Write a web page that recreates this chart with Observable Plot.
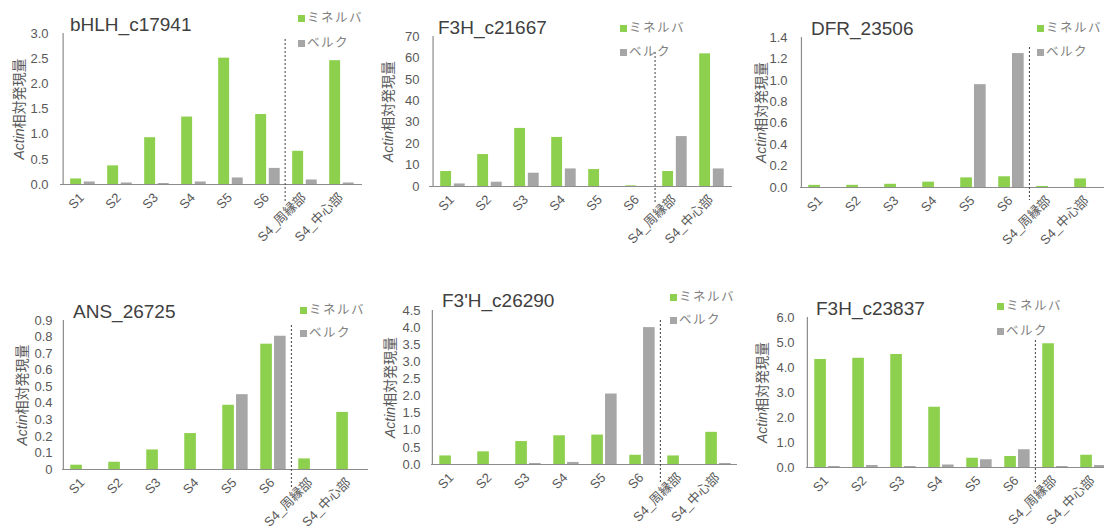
<!DOCTYPE html>
<html><head><meta charset="utf-8">
<script src="https://cdn.jsdelivr.net/npm/d3@7"></script>
<script src="https://cdn.jsdelivr.net/npm/@observablehq/plot@0.6"></script>
<style>
html,body{margin:0;padding:0;background:#fff;overflow:hidden;}
#root{position:relative;width:1104px;height:527px;overflow:hidden;background:#fff;font-family:"Liberation Sans",Arial,"Noto Sans CJK JP",sans-serif;color:#595959;}
.panel{position:absolute;}
.title{position:absolute;font-size:19px;white-space:nowrap;line-height:20px;color:#404040;}
.legend{position:absolute;font-size:12.5px;letter-spacing:1.5px;white-space:nowrap;line-height:14px;color:#7f7f7f;}
.sw{display:inline-block;width:7px;height:7px;margin-right:2px;vertical-align:0px;}
</style></head><body><div id="root"></div>
<script>
// ---- data ----
const categories = ["S1","S2","S3","S4","S5","S6","S4_周縁部","S4_中心部"];
const seriesNames = ["ミネルバ","ベルク"];
const yLabelItalic = "Actin";
const yLabelRest = "相対発現量";
const titles = ["bHLH_c17941","F3H_c21667","DFR_23506","ANS_26725","F3'H_c26290","F3H_c23837"];

const bhlhMinerva = [0.11, 0.37, 0.93, 1.34, 2.51, 1.39, 0.66, 2.46];
const bhlhBerg    = [0.05, 0.03, 0.02, 0.05, 0.13, 0.32, 0.09, 0.03];
const bhlhTicks   = ["0.0","0.5","1.0","1.5","2.0","2.5","3.0"];

const f3h1Minerva = [7.0, 14.9, 27.1, 22.9, 7.9, 0.3, 7.0, 61.9];
const f3h1Berg    = [1.2, 2.0, 6.2, 8.2, 0, 0, 23.3, 8.2];
const f3h1Ticks   = ["0","10","20","30","40","50","60","70"];

const dfrMinerva  = [0.02, 0.02, 0.03, 0.05, 0.09, 0.10, 0.01, 0.08];
const dfrBerg     = [0, 0, 0, 0, 0.96, 1.25, 0, 0];
const dfrTicks    = ["0.0","0.2","0.4","0.6","0.8","1.0","1.2","1.4"];

const ansMinerva  = [0.026, 0.044, 0.118, 0.217, 0.388, 0.757, 0.064, 0.345];
const ansBerg     = [0, 0, 0, 0, 0.452, 0.805, 0, 0];
const ansTicks    = ["0","0.1","0.2","0.3","0.4","0.5","0.6","0.7","0.8","0.9"];

const f3phMinerva = [0.25, 0.37, 0.67, 0.84, 0.86, 0.27, 0.25, 0.94];
const f3phBerg    = [0, 0, 0.03, 0.06, 2.06, 4.0, 0, 0.03];
const f3phTicks   = ["0.0","0.5","1.0","1.5","2.0","2.5","3.0","3.5","4.0","4.5"];

const f3h2Minerva = [4.32, 4.37, 4.52, 2.41, 0.37, 0.44, 4.95, 0.49];
const f3h2Berg    = [0.04, 0.08, 0.04, 0.10, 0.31, 0.71, 0.04, 0.08];
const f3h2Ticks   = ["0.0","1.0","2.0","3.0","4.0","5.0","6.0"];

// ---- styles / layout ----
const colors = ["#8dd04d", "#a6a6a6"];
const panels = [
  {title: titles[0], a: bhlhMinerva, b: bhlhBerg, ticks: bhlhTicks,
   left: 0, top: 0, width: 370, height: 260, ml: 60, mr: 8, mt: 33, mb: 76, pad: 12, labDx: -41, dashT: 6, dashB: -18,
   tx: 70, ty: 15, lx: 298, ly1: 11, ly2: 36},
  {title: titles[1], a: f3h1Minerva, b: f3h1Berg, ticks: f3h1Ticks,
   left: 370, top: 0, width: 370, height: 260, ml: 59, mr: 8, mt: 36, mb: 74, pad: 10, labDx: -41, dashT: 16, dashB: -17,
   tx: 68, ty: 18, lx: 250, ly1: 21, ly2: 45},
  {title: titles[2], a: dfrMinerva, b: dfrBerg, ticks: dfrTicks,
   left: 734, top: 0, width: 378, height: 260, ml: 66, mr: 7, mt: 37, mb: 73, pad: 13, labDx: -39, dashT: 10, dashB: -13,
   tx: 77, ty: 19, lx: 303, ly1: 21, ly2: 45},
  {title: titles[3], a: ansMinerva, b: ansBerg, ticks: ansTicks,
   left: 0, top: 270, width: 376, height: 257, ml: 62, mr: 8, mt: 50, mb: 58, pad: 10, labDx: -40, dashT: 5, dashB: -18,
   tx: 73, ty: 32, lx: 300, ly1: 33, ly2: 56},
  {title: titles[4], a: f3phMinerva, b: f3phBerg, ticks: f3phTicks,
   left: 370, top: 270, width: 375, height: 257, ml: 61, mr: 8, mt: 40, mb: 63, pad: 11, labDx: -41, dashT: 10, dashB: -19,
   tx: 72, ty: 21, lx: 300, ly1: 20, ly2: 43},
  {title: titles[5], a: f3h2Minerva, b: f3h2Berg, ticks: f3h2Ticks,
   left: 734, top: 270, width: 386, height: 257, ml: 72, mr: 8, mt: 47, mb: 60, pad: 12, labDx: -44, dashT: 23, dashB: -16,
   tx: 82, ty: 29, lx: 263, ly1: 29, ly2: 54}
];

const root = document.getElementById("root");

for (const p of panels) {
  const div = document.createElement("div");
  div.className = "panel";
  div.style.left = p.left + "px";
  div.style.top = p.top + "px";
  div.style.width = p.width + "px";
  div.style.height = p.height + "px";

  const rowsA = categories.map((c, i) => ({cat: c, value: p.a[i], series: seriesNames[0]}));
  const rowsB = categories.map((c, i) => ({cat: c, value: p.b[i], series: seriesNames[1]}));
  const tickVals = p.ticks.map(Number);
  const tickMap = new Map(tickVals.map((v, i) => [v, p.ticks[i]]));
  const bw = (p.width - p.ml - p.mr) / categories.length;
  const barW = 0.31 * bw, gap = 0.05 * bw;

  const svg = Plot.plot({
    width: p.width, height: p.height,
    marginLeft: p.ml, marginRight: p.mr, marginTop: p.mt, marginBottom: p.mb,
    style: {fontFamily: '"Liberation Sans", Arial, "Noto Sans CJK JP", sans-serif', color: "#595959", background: "transparent", overflow: "visible"},
    x: {domain: categories, padding: 0, axis: null},
    y: {domain: [0, tickVals[tickVals.length - 1]], axis: null},
    marks: [
      Plot.barY(rowsA, {x: "cat", y: "value", fill: colors[0], insetLeft: bw / 2 - barW, insetRight: bw / 2}),
      Plot.barY(rowsB, {x: "cat", y: "value", fill: colors[1], insetLeft: bw / 2 + gap, insetRight: bw / 2 - gap - barW}),
      Plot.ruleY([0], {stroke: "#8c8c8c", strokeWidth: 1.2}),
      Plot.ruleX([categories[0]], {dx: -bw / 2, stroke: "#8c8c8c", strokeWidth: 1.2}),
      Plot.ruleX([categories[6]], {dx: -bw / 2, stroke: "#404040", strokeWidth: 1, strokeDasharray: "2,2", insetTop: p.dashT, insetBottom: p.dashB}),
      Plot.axisY({ticks: tickVals, tickFormat: d => tickMap.get(d), tickSize: 0, tickPadding: p.pad, fontSize: 13, label: null}),
      Plot.axisX({tickRotate: -45, tickSize: 0, tickPadding: 11, fontSize: 13, label: null}),
      Plot.text(["ylabel"], {frameAnchor: "left", textAnchor: "middle", lineAnchor: "middle", dx: p.labDx, rotate: -90, text: () => yLabelItalic + yLabelRest, fontSize: 14, fill: "#595959"})
    ]
  });

  // italicise "Actin" within the y label
  d3.select(svg).selectAll("text").each(function() {
    if (this.textContent === yLabelItalic + yLabelRest) {
      const t = d3.select(this);
      t.text(null);
      t.append("tspan").attr("font-style", "italic").text(yLabelItalic);
      t.append("tspan").text(yLabelRest);
    }
  });

  svg.style.position = "absolute";
  svg.style.left = "0px";
  svg.style.top = "0px";
  div.appendChild(svg);

  const title = document.createElement("div");
  title.className = "title";
  title.style.left = p.tx + "px";
  title.style.top = p.ty + "px";
  title.textContent = p.title;
  div.appendChild(title);

  [[p.ly1, 0], [p.ly2, 1]].forEach(([ly, k]) => {
    const lg = document.createElement("div");
    lg.className = "legend";
    lg.style.left = p.lx + "px";
    lg.style.top = ly + "px";
    const sw = document.createElement("span");
    sw.className = "sw";
    sw.style.background = colors[k];
    lg.appendChild(sw);
    lg.appendChild(document.createTextNode(seriesNames[k]));
    div.appendChild(lg);
  });

  root.appendChild(div);
}
</script>
</body></html>
